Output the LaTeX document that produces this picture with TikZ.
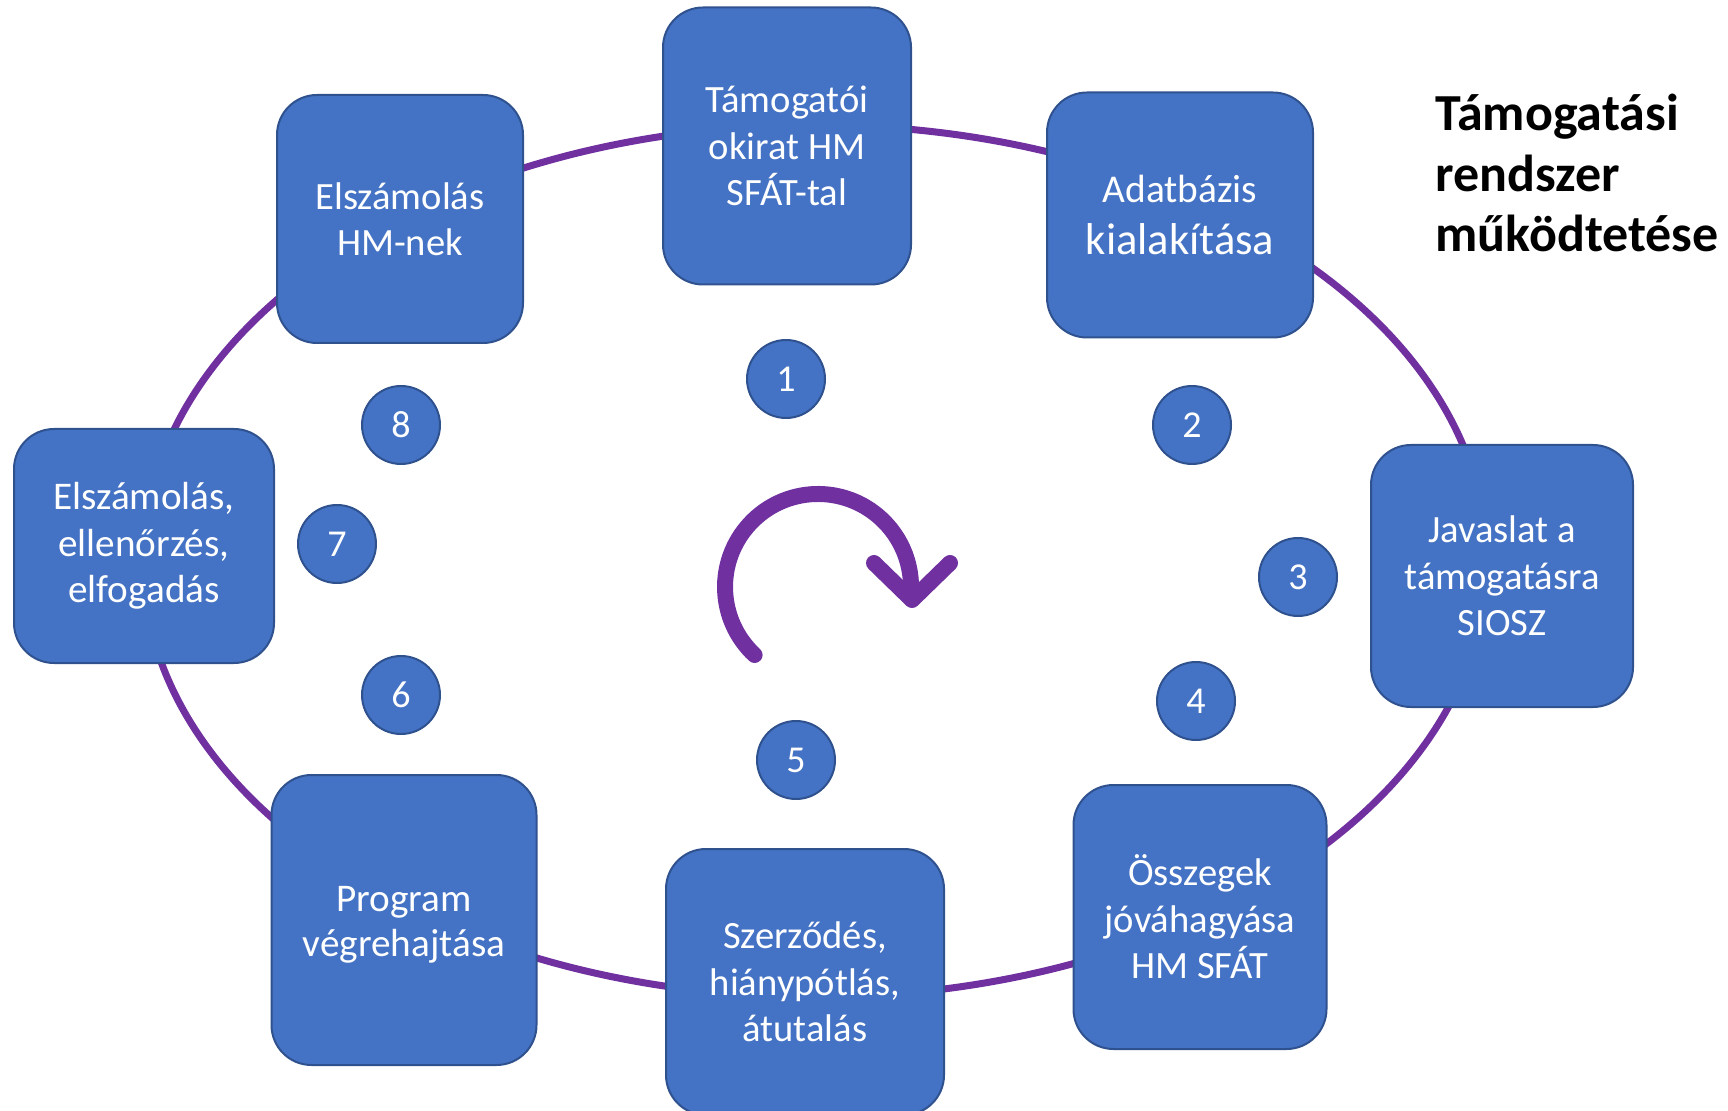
\documentclass[tikz,border=0pt]{standalone}
\usepackage{fontspec}
\setmainfont{Carlito}
\definecolor{boxblue}{HTML}{4472C4}
\definecolor{boxedge}{HTML}{2F528F}
\definecolor{ringpurple}{HTML}{7030A0}
\begin{document}
\begin{tikzpicture}[x=0.5pt,y=-0.5pt,
  stepbox/.style={draw=boxedge, line width=1pt, fill=boxblue, rounded corners=20pt,
    text=white, align=center, inner sep=0pt,
    font=\fontsize{19.3}{23.2}\selectfont},
  numcircle/.style={circle, draw=boxedge, line width=1pt, fill=boxblue, text=white,
    minimum size=39pt, inner sep=0pt, font=\fontsize{19}{22}\selectfont},
  ring/.style={draw=ringpurple, line width=3.5pt},
  turnarrow/.style={draw=ringpurple, line width=8pt, line cap=round, line join=round},
  titletext/.style={anchor=base west, align=left, inner sep=0pt,
    font=\fontsize{26}{30.25}\selectfont\bfseries}]
\useasboundingbox (0,0) rectangle (1728,1111);
\clip (0,0) rectangle (1728,1111);

% ring behind the boxes
\coordinate (ringc) at (815,561);
\draw[ring] (ringc) ellipse [x radius=672, y radius=436];

% boxes
\node[stepbox, minimum width=124pt, minimum height=138.5pt] (b1) at (787,146)
  {Támogatói\\okirat HM\\SFÁT-tal};
\node[stepbox, minimum width=133pt, minimum height=122.5pt,
  font=\fontsize{19.7}{26}\selectfont] (b2) at (1180,215)
  {\rule{0pt}{3pt}Adatbázis\\{\fontsize{22.3}{26}\selectfont kialakítása}};
\node[stepbox, minimum width=131pt, minimum height=131pt] (b3) at (1502,576)
  {Javaslat a\\támogatásra\\SIOSZ};
\node[stepbox, minimum width=126.5pt, minimum height=132pt] (b4) at (1200,917)
  {Összegek\\jóváhagyása\\HM SFÁT};
\node[stepbox, minimum width=139pt, minimum height=133pt] (b5) at (805,982)
  {Szerződés,\\hiánypótlás,\\átutalás};
\node[stepbox, minimum width=132.5pt, minimum height=145pt,
  font=\fontsize{19.6}{22.5}\selectfont] (b6) at (404,920)
  {\rule{0pt}{17pt}Program\\végrehajtása};
\node[stepbox, minimum width=130pt, minimum height=117pt,
  font=\fontsize{19.6}{23.2}\selectfont] (b7) at (144,546)
  {Elszámolás,\\ellenőrzés,\\elfogadás};
\node[stepbox, minimum width=123pt, minimum height=124pt] (b8) at (400,219)
  {Elszámolás\\HM-nek};

% number circles
\node[numcircle] (n1) at (786,379) {1};
\node[numcircle] (n2) at (1192,425) {2};
\node[numcircle] (n3) at (1298,577) {3};
\node[numcircle] (n4) at (1196,701) {4};
\node[numcircle] (n5) at (796,760) {5};
\node[numcircle] (n6) at (401,695) {6};
\node[numcircle] (n7) at (337,544) {7};
\node[numcircle] (n8) at (401,425) {8};

% central turning arrow
\coordinate (arcstart) at (754.6,655);
\coordinate (tipl) at (874,563);
\coordinate (tip) at (912,600);
\coordinate (tipr) at (950,563);
\draw[turnarrow] (arcstart) arc[start angle=133, end angle=360, radius=93];
\draw[turnarrow] (tipl) -- (tip) -- (tipr);

% title
\node[titletext] (title) at (1435,252) {Támogatási\\rendszer\\működtetése};
\end{tikzpicture}
\end{document}
